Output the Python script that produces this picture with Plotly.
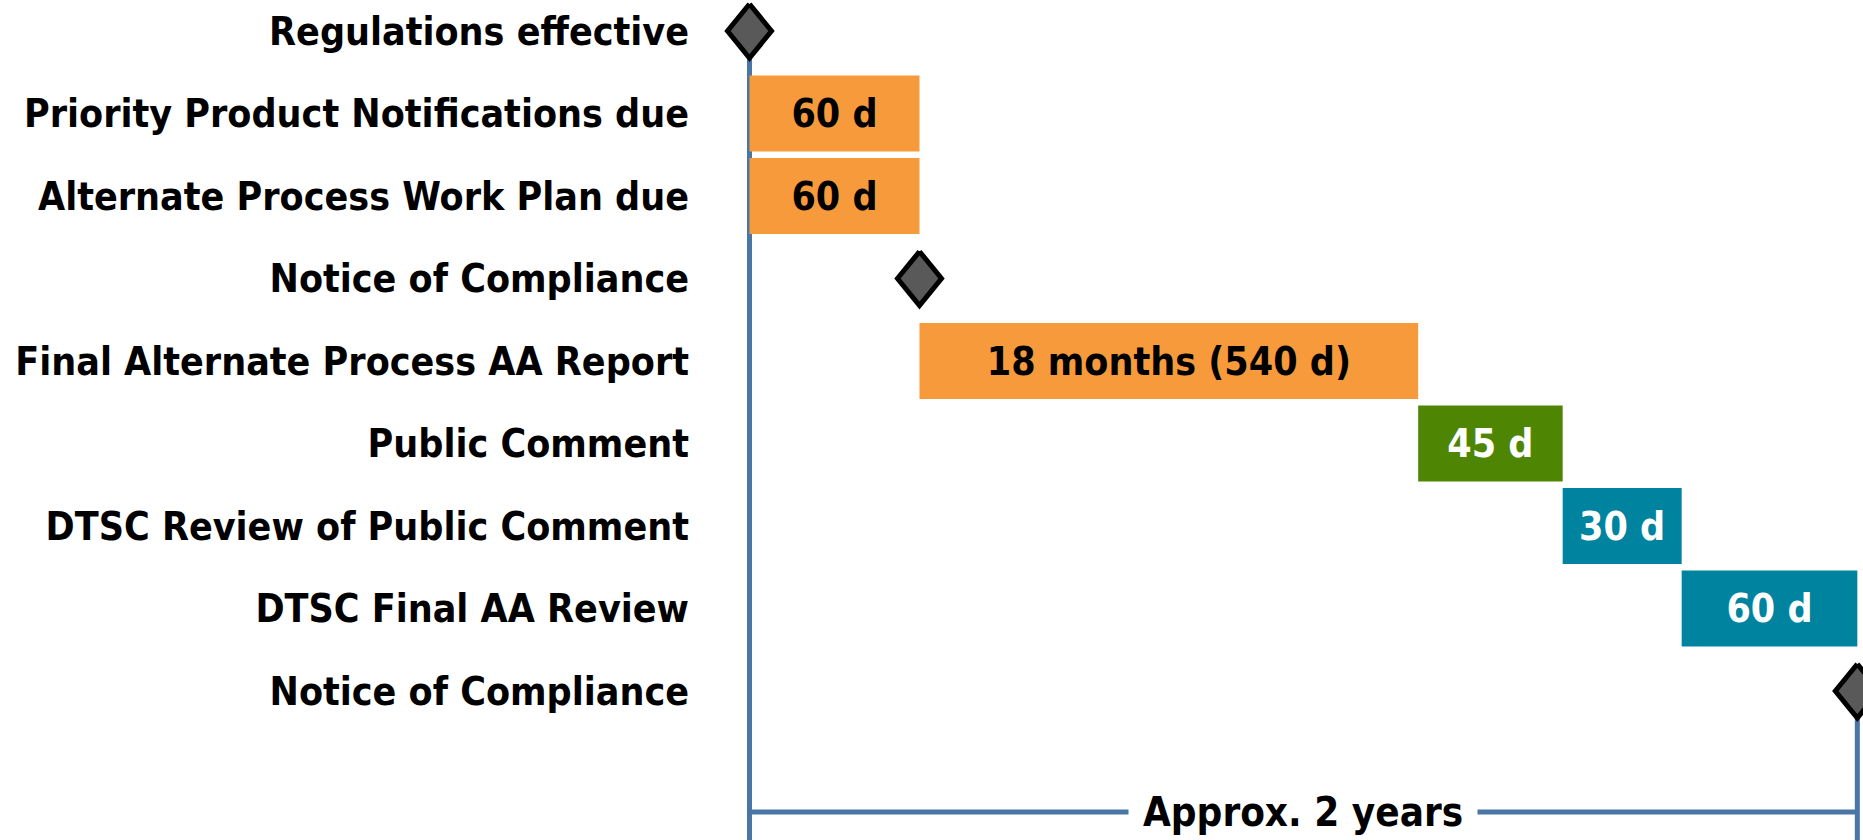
import plotly.graph_objects as go

# ---------------- data ----------------
row_labels = [
    "Regulations effective",
    "Priority Product Notifications due",
    "Alternate Process Work Plan due",
    "Notice of Compliance",
    "Final Alternate Process AA Report",
    "Public Comment",
    "DTSC Review of Public Comment",
    "DTSC Final AA Review",
    "Notice of Compliance",
]
phase_rows = [1, 2, 4, 5, 6, 7]
phase_text = ["60 d", "60 d", "18 months (540 d)", "45 d", "30 d", "60 d"]
# schematic (not-to-scale) drawn start and length of each phase
phase_start = [0, 0, 60, 236, 287, 329]
phase_span = [60, 60, 176, 51, 42, 62]
phase_owner = ["Responsible entity", "Responsible entity", "Responsible entity",
               "Public", "DTSC", "DTSC"]
milestone_rows = [0, 3, 8]
milestone_x = [0, 60, 391]
total_label = "Approx. 2 years"

# ---------------- style ----------------
FONT = "DejaVu Sans Condensed, Liberation Sans Narrow, Arial Narrow, sans-serif"
owner_color = {"Responsible entity": "#F79A3B", "Public": "#4E8603", "DTSC": "#00839F"}
owner_text = {"Responsible entity": "black", "Public": "white", "DTSC": "white"}
LINE = "#4A76A5"
ROW_PX = 82.5
ROW0_PX = 31.0
H = 840
W = 1863
PLOT_L = 700
X0_PX = 749.5
PX_PER_UNIT = 170 / 60.0

y_top = -ROW0_PX / ROW_PX
y_bot = (H - ROW0_PX) / ROW_PX
x_min = (PLOT_L - X0_PX) / PX_PER_UNIT
x_max = (W - X0_PX) / PX_PER_UNIT

fig = go.Figure()

fig.add_trace(go.Bar(
    orientation="h",
    y=phase_rows,
    x=phase_span,
    base=phase_start,
    width=0.92,
    marker=dict(color=[owner_color[o] for o in phase_owner], line=dict(width=0)),
    text=[f"<b>{t}</b>" for t in phase_text],
    textposition="inside",
    insidetextanchor="middle",
    constraintext="none",
    textfont=dict(family=FONT, size=39, color=[owner_text[o] for o in phase_owner]),
    hoverinfo="skip",
    showlegend=False,
))

# diamonds as polygons derived from milestone positions
hw = 22 / PX_PER_UNIT
hh = 27 / ROW_PX
for mx, my in zip(milestone_x, milestone_rows):
    fig.add_trace(go.Scatter(
        x=[mx, mx + hw, mx, mx - hw, mx],
        y=[my - hh, my, my + hh, my, my - hh],
        mode="lines",
        fill="toself",
        fillcolor="#595959",
        line=dict(color="black", width=5),
        hoverinfo="skip",
        showlegend=False,
    ))

x_end = milestone_x[-1]
bottom_y = (812 - ROW0_PX) / ROW_PX
shapes = [
    dict(type="line", xref="x", yref="y", x0=milestone_x[0], x1=milestone_x[0],
         y0=milestone_rows[0], y1=y_bot, line=dict(color=LINE, width=5), layer="below"),
    dict(type="line", xref="x", yref="y", x0=x_end, x1=x_end,
         y0=milestone_rows[-1], y1=y_bot, line=dict(color=LINE, width=5), layer="below"),
    dict(type="line", xref="x", yref="y", x0=milestone_x[0], x1=x_end,
         y0=bottom_y, y1=bottom_y, line=dict(color=LINE, width=5), layer="below"),
]

fig.add_annotation(
    x=(milestone_x[0] + x_end) / 2, y=bottom_y, xref="x", yref="y",
    text=f"<b>{total_label}</b>", showarrow=False,
    font=dict(family=FONT, size=40, color="black"),
    bgcolor="white", borderpad=14,
)

fig.update_layout(
    width=W, height=H,
    margin=dict(l=PLOT_L, r=0, t=0, b=0, autoexpand=False),
    paper_bgcolor="white", plot_bgcolor="white",
    shapes=shapes,
    barmode="overlay",
    xaxis=dict(range=[x_min, x_max], visible=False, fixedrange=True, automargin=False),
    yaxis=dict(
        range=[y_bot, y_top],
        tickvals=list(range(len(row_labels))),
        ticktext=row_labels,
        tickfont=dict(family=FONT, size=39, color="black", weight="bold"),
        showgrid=False, zeroline=False, showline=False, ticks="",
        ticklabelstandoff=10,
        automargin=False,
        fixedrange=True,
    ),
)

fig.write_html(
    "out.html",
    config={"displayModeBar": False},
    post_script="document.body.style.margin='0';document.body.style.overflow='hidden';",
)
